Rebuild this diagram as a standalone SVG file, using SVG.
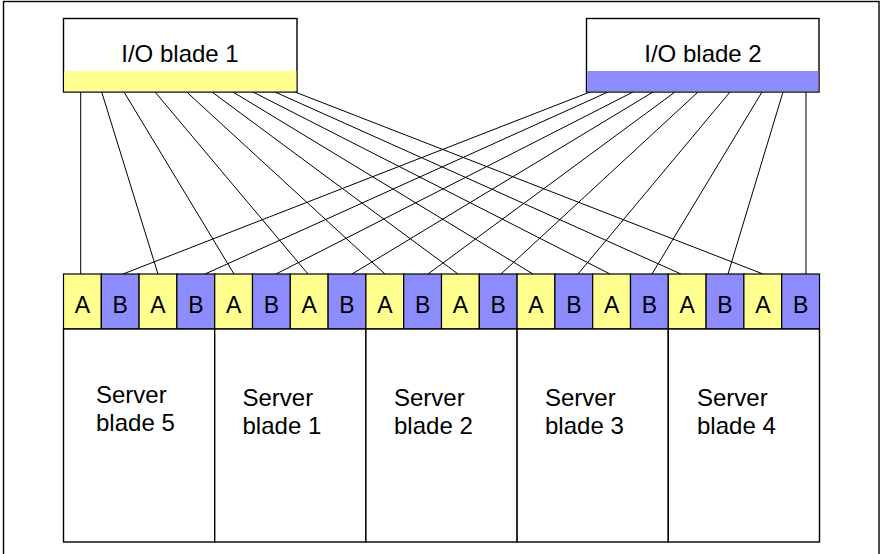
<svg xmlns="http://www.w3.org/2000/svg" width="881" height="554" viewBox="0 0 881 554">
<style>
text{font-family:"Liberation Sans",Arial,sans-serif;fill:#000}
.lbl{font-size:24px}
.port{font-size:23px;text-anchor:middle}
.box{fill:#fff;stroke:#000;stroke-width:1.4}
.ya{fill:#FFFF90;stroke:#000;stroke-width:1.2}
.yb{fill:#8C8CFF;stroke:#000;stroke-width:1.2}
.band{stroke:none}
.conn line{stroke:#000;stroke-width:1}
</style>
<rect x="0" y="0" width="881" height="554" fill="#fff"/>
<rect x="3.5" y="1.5" width="875.5" height="570" fill="none" stroke="#000" stroke-width="1.4"/>

<g id="connectors" class="conn">
<line x1="80.7" y1="92" x2="80.7" y2="274"/>
<line x1="101.7" y1="92" x2="158" y2="274"/>
<line x1="124" y1="92" x2="234" y2="274"/>
<line x1="155" y1="92" x2="308" y2="274"/>
<line x1="186.7" y1="92" x2="385" y2="274"/>
<line x1="212" y1="92" x2="458" y2="274"/>
<line x1="233" y1="92" x2="533" y2="274"/>
<line x1="253" y1="92" x2="610" y2="274"/>
<line x1="275" y1="92" x2="681" y2="274"/>
<line x1="295" y1="92" x2="763" y2="274"/>
<line x1="590" y1="92" x2="123" y2="274"/>
<line x1="608" y1="92" x2="205" y2="274"/>
<line x1="633" y1="92" x2="276" y2="274"/>
<line x1="653" y1="92" x2="352" y2="274"/>
<line x1="675" y1="92" x2="428" y2="274"/>
<line x1="698" y1="92" x2="501" y2="274"/>
<line x1="730" y1="92" x2="578" y2="274"/>
<line x1="762" y1="92" x2="652" y2="274"/>
<line x1="783" y1="92" x2="728" y2="274"/>
<line x1="806" y1="92" x2="806" y2="274"/>
</g>

<g id="io1">
<rect class="box" x="63.5" y="18.5" width="233.5" height="73.5"/>
<rect class="band" x="64.2" y="71" width="232.1" height="20.3" fill="#FFFF90"/>
<text class="lbl" x="180" y="62" text-anchor="middle">I/O blade 1</text>
</g>
<g id="io2">
<rect class="box" x="586.5" y="18.5" width="232.5" height="73.5"/>
<rect class="band" x="587.2" y="71" width="231.1" height="20.3" fill="#8C8CFF"/>
<text class="lbl" x="703" y="62" text-anchor="middle">I/O blade 2</text>
</g>

<g id="ports">
<rect class="ya" x="63.5" y="274" width="37.8" height="55"/>
<rect class="yb" x="101.3" y="274" width="37.8" height="55"/>
<rect class="ya" x="139.1" y="274" width="37.8" height="55"/>
<rect class="yb" x="176.9" y="274" width="37.8" height="55"/>
<rect class="ya" x="214.7" y="274" width="37.8" height="55"/>
<rect class="yb" x="252.5" y="274" width="37.8" height="55"/>
<rect class="ya" x="290.3" y="274" width="37.8" height="55"/>
<rect class="yb" x="328.1" y="274" width="37.8" height="55"/>
<rect class="ya" x="365.9" y="274" width="37.8" height="55"/>
<rect class="yb" x="403.7" y="274" width="37.8" height="55"/>
<rect class="ya" x="441.5" y="274" width="37.8" height="55"/>
<rect class="yb" x="479.3" y="274" width="37.8" height="55"/>
<rect class="ya" x="517.1" y="274" width="37.8" height="55"/>
<rect class="yb" x="554.9" y="274" width="37.8" height="55"/>
<rect class="ya" x="592.7" y="274" width="37.8" height="55"/>
<rect class="yb" x="630.5" y="274" width="37.8" height="55"/>
<rect class="ya" x="668.3" y="274" width="37.8" height="55"/>
<rect class="yb" x="706.1" y="274" width="37.8" height="55"/>
<rect class="ya" x="743.9" y="274" width="37.8" height="55"/>
<rect class="yb" x="781.7" y="274" width="37.8" height="55"/>
<text class="port" x="82.4" y="313">A</text>
<text class="port" x="120.2" y="313">B</text>
<text class="port" x="158" y="313">A</text>
<text class="port" x="195.8" y="313">B</text>
<text class="port" x="233.6" y="313">A</text>
<text class="port" x="271.4" y="313">B</text>
<text class="port" x="309.2" y="313">A</text>
<text class="port" x="347" y="313">B</text>
<text class="port" x="384.8" y="313">A</text>
<text class="port" x="422.6" y="313">B</text>
<text class="port" x="460.4" y="313">A</text>
<text class="port" x="498.2" y="313">B</text>
<text class="port" x="536" y="313">A</text>
<text class="port" x="573.8" y="313">B</text>
<text class="port" x="611.6" y="313">A</text>
<text class="port" x="649.4" y="313">B</text>
<text class="port" x="687.2" y="313">A</text>
<text class="port" x="725" y="313">B</text>
<text class="port" x="762.8" y="313">A</text>
<text class="port" x="800.6" y="313">B</text>
</g>

<g id="server5">
<rect class="box" x="63.5" y="329" width="151.2" height="213"/>
<text class="lbl" x="96" y="403">Server</text>
<text class="lbl" x="96" y="431">blade 5</text>
</g>
<g id="server1">
<rect class="box" x="214.7" y="329" width="151.2" height="213"/>
<text class="lbl" x="242.5" y="406">Server</text>
<text class="lbl" x="242.5" y="434">blade 1</text>
</g>
<g id="server2">
<rect class="box" x="365.9" y="329" width="151.2" height="213"/>
<text class="lbl" x="394" y="406">Server</text>
<text class="lbl" x="394" y="434">blade 2</text>
</g>
<g id="server3">
<rect class="box" x="517.1" y="329" width="151.2" height="213"/>
<text class="lbl" x="545" y="406">Server</text>
<text class="lbl" x="545" y="434">blade 3</text>
</g>
<g id="server4">
<rect class="box" x="668.3" y="329" width="151.2" height="213"/>
<text class="lbl" x="697" y="406">Server</text>
<text class="lbl" x="697" y="434">blade 4</text>
</g>
</svg>
